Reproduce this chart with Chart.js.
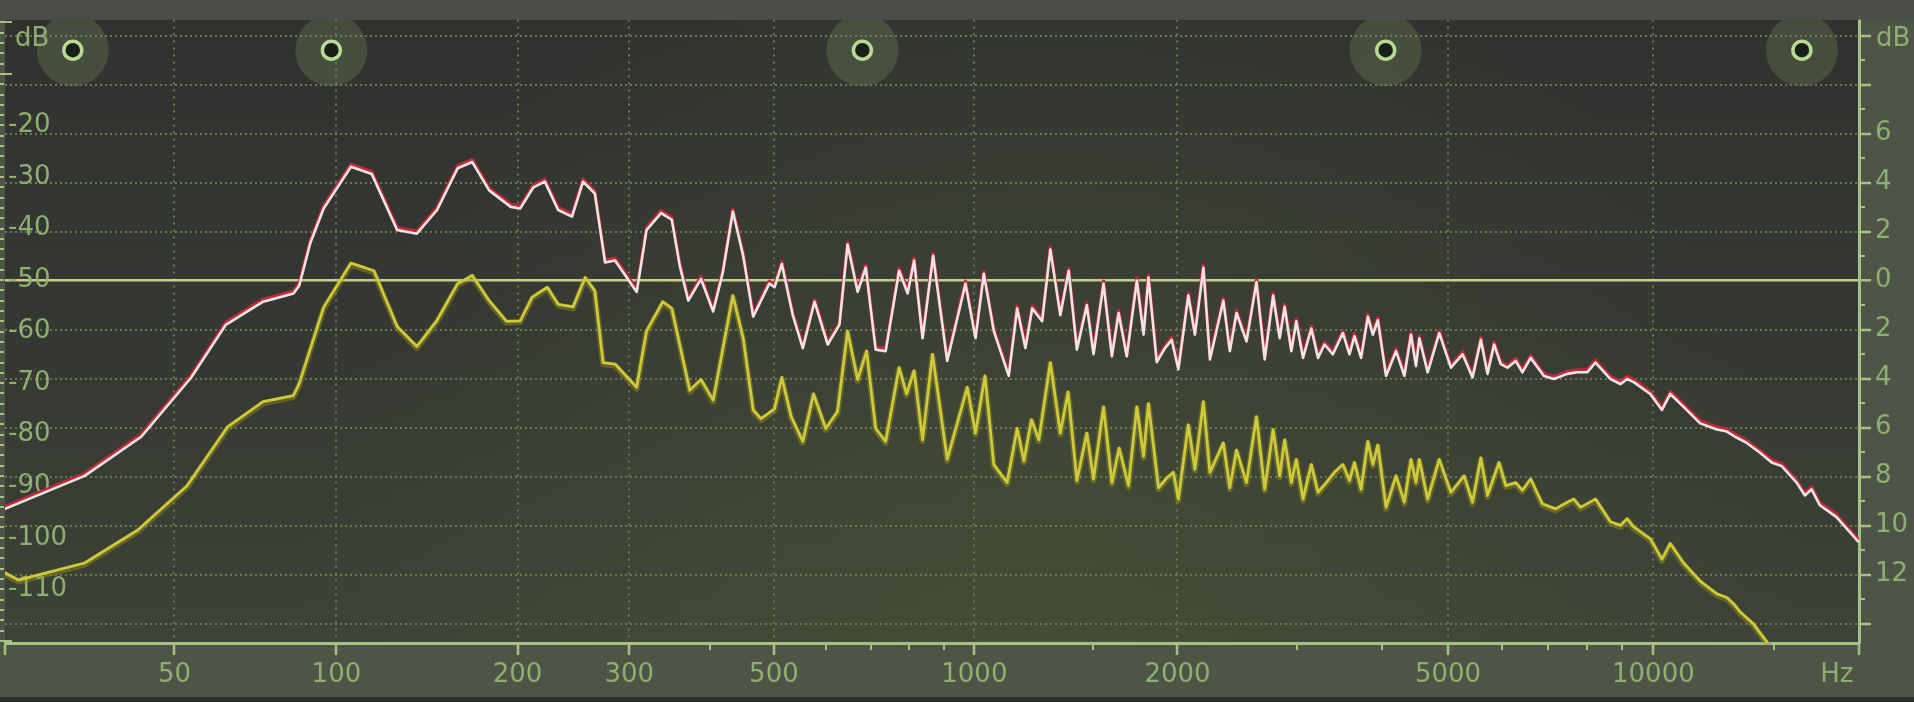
<!DOCTYPE html>
<html>
<head>
<meta charset="utf-8">
<title>Spectrum</title>
<script src="https://cdn.jsdelivr.net/npm/chart.js@4.4.1/dist/chart.umd.min.js"></script>
<style>
  html, body { margin: 0; padding: 0; background: #4e5546; overflow: hidden; }
  canvas { display: block; }
</style>
</head>
<body>
<canvas id="eq" width="1914" height="702"></canvas>
<script>
// analyser curves (Hz / dB)
const whiteHz = [20, 32, 42.7, 54, 63, 74, 84, 86, 90, 95,
    106, 115, 127, 137, 148, 160, 169, 180, 195, 202,
    212, 221, 232, 244, 254, 265, 275, 285, 308, 319,
    336, 349, 359, 370, 387, 404, 418, 433, 449, 465,
    492, 501, 514, 534, 553, 576, 603, 628, 646, 669,
    688, 712, 737, 772, 795, 813, 837, 868, 911, 970,
    1004, 1033, 1069, 1125, 1158, 1191, 1219, 1261, 1297, 1342,
    1381, 1420, 1469, 1503, 1555, 1600, 1637, 1683, 1742, 1782,
    1812, 1864, 1917, 1961, 2006, 2075, 2122, 2184, 2233, 2337,
    2389, 2444, 2528, 2615, 2689, 2767, 2829, 2877, 2943, 2993,
    3062, 3149, 3221, 3293, 3388, 3504, 3583, 3644, 3727, 3813,
    3878, 3944, 4055, 4195, 4314, 4412, 4487, 4538, 4668, 4854,
    5049, 5252, 5432, 5587, 5713, 5842, 5975, 6112, 6285, 6428,
    6610, 6913, 7150, 7480, 7735, 8000, 8227, 8653, 8949, 9153,
    9358, 9898, 10295, 10587, 11071, 11710, 12387, 12809, 13172, 13701,
    14327, 14902, 15412, 16208, 16667, 17047, 17530, 18540, 19174, 19935];
const whiteDb = [-94.4, -88.0, -80.4, -68.9, -58.7, -54.2, -52.6, -51.1, -42.8, -36.1,
    -28.0, -29.4, -40.3, -41.0, -36.4, -28.3, -27.1, -32.6, -35.8, -36.1,
    -32.0, -30.9, -36.4, -37.7, -30.9, -33.2, -46.6, -46.2, -52.3, -40.3,
    -37.0, -38.3, -47.2, -54.0, -49.8, -56.1, -48.5, -36.7, -45.3, -57.1,
    -50.7, -51.4, -46.9, -56.8, -63.2, -54.2, -62.5, -58.7, -43.1, -52.3,
    -47.6, -63.5, -63.8, -48.2, -52.6, -46.2, -61.3, -45.3, -65.7, -50.7,
    -61.3, -48.8, -59.9, -68.6, -55.5, -63.2, -55.5, -58.0, -44.1, -56.8,
    -48.2, -63.5, -54.9, -64.4, -50.7, -64.8, -56.4, -64.8, -50.1, -60.6,
    -49.5, -65.9, -63.2, -61.6, -67.3, -53.0, -60.6, -47.6, -65.4, -54.0,
    -63.8, -56.4, -61.9, -50.4, -65.4, -53.0, -61.3, -55.2, -63.8, -58.0,
    -65.1, -59.4, -65.1, -62.5, -64.4, -60.3, -64.4, -60.9, -65.1, -57.1,
    -60.6, -57.8, -68.6, -63.8, -68.6, -60.6, -66.7, -61.3, -67.9, -60.3,
    -67.0, -64.4, -68.9, -61.6, -68.2, -62.5, -66.3, -67.0, -65.7, -67.9,
    -65.1, -68.6, -69.2, -68.2, -67.9, -67.9, -66.0, -69.2, -70.2, -69.2,
    -69.8, -72.1, -75.2, -72.1, -74.6, -77.8, -79.0, -79.4, -80.4, -81.6,
    -83.5, -85.4, -86.1, -89.3, -91.8, -90.6, -93.7, -96.0, -98.2, -100.7];

const yellowHz = [20, 21.8, 32, 42, 53, 63.5, 74, 84, 86, 95,
    106, 116, 127, 137, 148, 160, 169, 180, 192, 202,
    211, 223, 232, 245, 256, 265, 273, 285, 308, 319,
    338, 349, 372, 387, 404, 433, 449, 465, 478, 501,
    514, 531, 553, 574, 599, 624, 646, 669, 690, 712,
    737, 772, 792, 813, 837, 866, 911, 976, 1004, 1037,
    1069, 1119, 1158, 1185, 1216, 1247, 1297, 1342, 1378, 1420,
    1469, 1503, 1555, 1600, 1640, 1693, 1742, 1782, 1812, 1875,
    1928, 1972, 2006, 2075, 2122, 2184, 2233, 2337, 2389, 2444,
    2528, 2615, 2689, 2767, 2829, 2877, 2943, 2993, 3062, 3149,
    3221, 3312, 3406, 3504, 3583, 3644, 3727, 3813, 3878, 3944,
    4055, 4195, 4314, 4412, 4487, 4538, 4668, 4854, 5049, 5280,
    5432, 5587, 5713, 5941, 6077, 6285, 6428, 6610, 6875, 7191,
    7480, 7647, 7822, 8227, 8653, 8949, 9153, 9358, 9898, 10295,
    10587, 11071, 11710, 12387, 12809, 13098, 13397, 14008, 14652, 15324];
const yellowDb = [-106.8, -108.2, -104.9, -98.5, -89.9, -78.5, -73.6, -72.4, -70.1, -55.3,
    -46.7, -48.2, -59.0, -62.9, -57.8, -50.7, -49.1, -54.0, -58.0, -57.9,
    -53.3, -51.4, -54.7, -55.2, -49.5, -52.1, -66.0, -66.3, -70.8, -59.9,
    -54.2, -55.5, -71.4, -69.3, -73.3, -53.0, -61.3, -75.2, -76.9, -75.0,
    -68.9, -76.5, -81.3, -72.1, -78.8, -75.5, -59.9, -69.3, -63.8, -78.8,
    -81.3, -67.0, -72.1, -67.6, -81.0, -64.4, -84.8, -70.8, -79.7, -68.6,
    -85.8, -89.3, -78.8, -85.1, -77.1, -81.0, -66.0, -79.7, -71.7, -88.9,
    -79.7, -88.6, -74.6, -89.3, -82.6, -89.9, -74.6, -84.2, -74.0, -90.3,
    -88.4, -87.3, -92.5, -78.1, -86.7, -73.6, -87.3, -81.6, -90.3, -83.0,
    -89.3, -76.5, -90.6, -79.0, -88.0, -81.0, -89.3, -84.8, -92.5, -85.8,
    -91.2, -89.3, -87.3, -85.8, -88.9, -85.4, -90.6, -81.3, -85.8, -82.0,
    -94.1, -88.0, -93.1, -84.8, -89.3, -84.8, -92.5, -84.8, -91.2, -88.0,
    -93.1, -84.5, -91.8, -85.4, -89.9, -89.3, -90.8, -88.6, -93.4, -94.4,
    -93.1, -92.5, -94.1, -92.5, -96.9, -97.6, -96.3, -97.9, -100.2, -104.2,
    -101.1, -104.9, -108.4, -110.9, -111.6, -112.8, -114.4, -116.7, -120.2, -123.6];

// eq band handles
const bandHz = [30, 98, 680, 4050, 16500];
const bandGain = [9.4, 9.4, 9.4, 9.4, 9.4];
const bandNames = ['1', '2', '4', '5', '6'];

// axis ticks
const freqMajor = [50, 100, 200, 300, 500, 1000, 2000, 5000, 10000];
const freqMinor = [400, 600, 700, 800, 900, 1500, 3000, 4000, 6000, 7000, 8000, 9000, 15000];
const levelLabels = [-20, -30, -40, -50, -60, -70, -80, -90, -100, -110];
const gainTicks = [-14, -12, -10, -8, -6, -4, -2, 0, 2, 4, 6, 8, 10];
const gainLabels = [-12, -10, -8, -6, -4, -2, 0, 2, 4, 6];

const green = '#8fae72';
const tickGreen = '#a3c283';
const dotGreen = '#6a7a50';
const font = { family: 'DejaVu Sans', size: 26 };

// the analyser frequency axis is log(f + 19)
const warp = hz => Math.log(hz + 19);
const toPoints = (hz, db) => hz.map((f, i) => ({ x: warp(f), y: db[i] }));

const xTicks = [{ hz: 20, label: '' }]
    .concat(freqMajor.map(f => ({ hz: f, label: String(f), grid: true })))
    .concat([{ hz: 18560, label: 'Hz', hide: true }, { hz: 20000, label: '' }]);
const yTicks = gainTicks.concat([9.5]);

const bands = bandHz.map((f, i) => ({ x: warp(f), y: bandGain[i] }));

const panel = {
    id: 'panel',
    beforeDraw(chart) {
        const { ctx, chartArea: a, width, height } = chart;
        ctx.save();
        ctx.fillStyle = '#4e5546';
        ctx.fillRect(0, 0, width, height);
        const g = ctx.createLinearGradient(0, a.top, 0, a.bottom);
        g.addColorStop(0, '#313230');
        g.addColorStop(0.5, '#353832');
        g.addColorStop(1, '#3d4336');
        ctx.fillStyle = g;
        ctx.fillRect(a.left, a.top, a.right - a.left, a.bottom - a.top);
        const r = ctx.createRadialGradient(1050, 640, 20, 1050, 640, 760);
        r.addColorStop(0, 'rgba(78,90,56,0.45)');
        r.addColorStop(1, 'rgba(78,90,56,0)');
        ctx.fillStyle = r;
        ctx.fillRect(a.left, a.top, a.right - a.left, a.bottom - a.top);
        ctx.restore();
    },
    beforeDatasetDraw(chart, args) {
        const ds = chart.data.datasets[args.index];
        chart.ctx.save();
        if (ds.shiftY) chart.ctx.translate(0, ds.shiftY);
    },
    afterDatasetDraw(chart) {
        chart.ctx.restore();
    },
    afterDraw(chart) {
        const { ctx, chartArea: a, scales } = chart;
        ctx.save();
        ctx.strokeStyle = tickGreen;
        ctx.lineWidth = 2;
        ctx.beginPath();
        freqMinor.forEach(f => {
            const x = Math.round(scales.x.getPixelForValue(warp(f)));
            ctx.moveTo(x, a.bottom);
            ctx.lineTo(x, a.bottom + 7);
        });
        for (let v = -13; v <= 9; v += 2) {
            const y = Math.round(scales.y2.getPixelForValue(v));
            ctx.moveTo(a.right, y);
            ctx.lineTo(a.right + 6, y);
        }
        for (let v = 0; v >= -120; v -= 2) {
            const y = Math.round(scales.y.getPixelForValue(v));
            const len = (v % 10 === 0 && !levelLabels.includes(v)) ? 12 : 4;
            ctx.moveTo(0, y);
            ctx.lineTo(len, y);
        }
        ctx.stroke();

        ctx.fillStyle = green;
        ctx.font = '26px "DejaVu Sans"';
        ctx.textBaseline = 'middle';
        ctx.textAlign = 'left';
        ctx.fillText('dB', 15, 39);
        ctx.fillText('dB', a.right + 17, 39);

        ctx.font = '20px "DejaVu Sans"';
        ctx.textAlign = 'center';
        ctx.textBaseline = 'alphabetic';
        ctx.fillStyle = '#a9c98a';
        bandHz.forEach((f, i) => ctx.fillText(bandNames[i], scales.x.getPixelForValue(warp(f)), 18));

        ctx.fillStyle = '#4b4e48';
        ctx.fillRect(0, 0, chart.width, a.top);
        ctx.fillStyle = '#2c2e2a';
        ctx.fillRect(0, chart.height - 5, chart.width, 5);
        ctx.restore();
    }
};

const curve = {
    pointRadius: 0,
    tension: 0,
    borderJoinStyle: 'round',
    borderCapStyle: 'round'
};

new Chart(document.getElementById('eq'), {
    type: 'line',
    data: {
        datasets: [
            {
                label: 'band',
                data: bands,
                yAxisID: 'y2',
                showLine: false,
                pointRadius: 9,
                pointBorderWidth: 3.5,
                pointBorderColor: '#b8da94',
                pointBackgroundColor: '#1c1e1a',
                order: 0,
                clip: 0
            },
            Object.assign({
                label: 'white',
                data: toPoints(whiteHz, whiteDb),
                borderColor: '#f0e4e7',
                borderWidth: 2.6,
                order: 1
            }, curve),
            Object.assign({
                label: 'red',
                data: toPoints(whiteHz, whiteDb),
                borderColor: '#c02a38',
                borderWidth: 3.4,
                order: 2,
                shiftY: -2.4
            }, curve),
            Object.assign({
                label: 'yellow',
                data: toPoints(yellowHz, yellowDb),
                borderColor: '#cfca3a',
                borderWidth: 2.8,
                order: 3
            }, curve),
            Object.assign({
                label: 'yellow shade',
                data: toPoints(yellowHz, yellowDb),
                borderColor: 'rgba(150,145,35,0.45)',
                borderWidth: 6,
                order: 4,
                shiftY: 1.5
            }, curve),
            {
                label: 'band halo',
                data: bands,
                yAxisID: 'y2',
                showLine: false,
                pointRadius: 36,
                pointBorderWidth: 0,
                pointBackgroundColor: 'rgba(112,135,90,0.33)',
                order: 5,
                clip: 0
            }
        ]
    },
    options: {
        responsive: false,
        animation: false,
        events: [],
        layout: { autoPadding: false, padding: { top: 10, left: 0, right: 0, bottom: 0 } },
        plugins: { legend: { display: false }, tooltip: { enabled: false } },
        scales: {
            x: {
                type: 'linear',
                min: warp(20),
                max: warp(20000),
                afterBuildTicks: s => { s.ticks = xTicks.map(t => ({ value: warp(t.hz) })); },
                afterFit: s => { s.height = 59; },
                ticks: {
                    autoSkip: false,
                    maxRotation: 0,
                    padding: 5,
                    color: green,
                    font,
                    callback: (v, i) => xTicks[i].label
                },
                grid: {
                    color: c => (xTicks[c.index] && xTicks[c.index].grid ? dotGreen : 'transparent'),
                    lineWidth: 2,
                    tickLength: 12,
                    tickWidth: 2.5,
                    tickColor: c => (xTicks[c.index] && xTicks[c.index].hide ? 'transparent' : tickGreen)
                },
                border: { display: true, color: tickGreen, width: 3, dash: [2, 5] }
            },
            y: {
                position: 'left',
                min: -120.42,
                max: 0.54,
                afterBuildTicks: s => { s.ticks = levelLabels.map(v => ({ value: v })); },
                afterFit: s => { s.width = 0; },
                ticks: { mirror: true, padding: 3, color: green, font, callback: v => String(v) },
                grid: { display: false },
                border: { display: false }
            },
            y2: {
                position: 'right',
                min: -14.79,
                max: 10.65,
                afterBuildTicks: s => { s.ticks = yTicks.map(v => ({ value: v })); },
                afterFit: s => { s.width = 55; },
                ticks: {
                    padding: 4,
                    color: green,
                    font,
                    callback: v => (gainLabels.includes(v) ? String(Math.abs(v)) : '')
                },
                grid: {
                    color: c => {
                        const v = c.tick ? c.tick.value : null;
                        if (v === 0) return '#c6d08e';
                        return v === 9.5 ? 'transparent' : dotGreen;
                    },
                    lineWidth: c => (c.tick && c.tick.value === 0 ? 2.5 : 2),
                    tickLength: 12,
                    tickWidth: 2.5,
                    tickColor: c => (c.tick && c.tick.value === 9.5 ? 'transparent' : tickGreen)
                },
                border: {
                    display: true,
                    color: tickGreen,
                    width: 3,
                    dash: c => (c.tick && c.tick.value === 0 ? [] : [2, 3])
                }
            }
        }
    },
    plugins: [panel]
});
</script>
</body>
</html>
